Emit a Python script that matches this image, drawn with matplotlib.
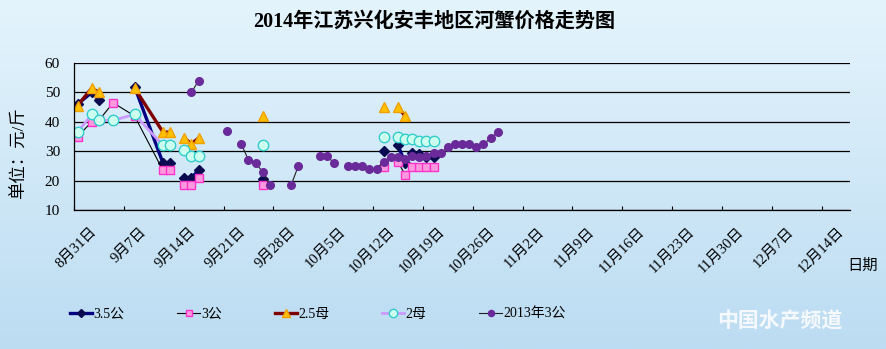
import numpy as np
import matplotlib.pyplot as plt
from matplotlib.colors import LinearSegmentedColormap
from matplotlib.transforms import ScaledTranslation
from datetime import date

# 价格数据（元/斤），None 表示当天无数据，折线在此断开
dates_35 = ["8/31", "9/2", "9/3", None, "9/8", "9/12", "9/13", None, "9/15", "9/16", "9/17",
            None, "9/26", None, "10/13", None, "10/15", "10/16", "10/17", "10/18", "10/19", "10/20"]
vals_35 = [46, 50, 47.5, None, 52, 26, 26, None, 21, 21, 23.5,
           None, 20.5, None, 30, None, 32, 26, 29.5, 29, 28, 28]

dates_3 = ["8/31", "9/2", "9/3", "9/5", "9/8", "9/12", "9/13", None, "9/15", "9/16", "9/17",
           None, "9/26", None, "10/13", None, "10/15", "10/16", "10/17", "10/18", "10/19", "10/20"]
vals_3 = [35, 40, 40.5, 46.5, 42, 23.5, 23.5, None, 18.5, 18.5, 21,
          None, 18.5, None, 24.5, None, 26.5, 22, 24.5, 24.5, 24.5, 24.5]

dates_25 = ["8/31", "9/2", "9/3", None, "9/8", "9/12", "9/13", None, "9/15", "9/16", "9/17",
            None, "9/26", None, "10/13", None, "10/15", "10/16"]
vals_25 = [45.5, 51.5, 50, None, 51.5, 36.5, 36.5, None, 34.5, 32.5, 34.5,
           None, 42, None, 45, None, 45, 42]

dates_2 = ["8/31", "9/2", "9/3", "9/5", "9/8", "9/12", "9/13", None, "9/15", "9/16", "9/17",
           None, "9/26", None, "10/13", None, "10/15", "10/16", "10/17", "10/18", "10/19", "10/20"]
vals_2 = [36.5, 42.5, 40.5, 40.5, 42.5, 32, 32, None, 30.5, 28.5, 28.5,
          None, 32, None, 35, None, 35, 34, 34, 33.5, 33.5, 33.5]

dates_13 = ["9/16", "9/17", None, "9/21", None, "9/23", "9/24", "9/25", "9/26", "9/27", None,
            "9/30", "10/1", None, "10/4", "10/5", "10/6", None,
            "10/8", "10/9", "10/10", "10/11", "10/12", "10/13", "10/14", "10/15", "10/16",
            "10/17", "10/18", "10/19", "10/20", "10/21", "10/22", "10/23", "10/24", "10/25",
            "10/26", "10/27", "10/28", "10/29"]
vals_13 = [50, 54, None, 37, None, 32.5, 27, 26, 23, 18.5, None,
           18.5, 25, None, 28.5, 28.5, 26, None,
           25, 25, 25, 24, 24, 26.5, 28, 28, 27.5,
           28.5, 28, 28.5, 29.3, 29.5, 31.3, 32.4, 32.4, 32.4,
           31.3, 32.4, 34.4, 36.4]

tick_labels = ["8月31日", "9月7日", "9月14日", "9月21日", "9月28日", "10月5日", "10月12日",
               "10月19日", "10月26日", "11月2日", "11月9日", "11月16日", "11月23日",
               "11月30日", "12月7日", "12月14日"]

start = date(2014, 8, 31)


def to_day(s):
    if s is None:
        return np.nan
    m, d = s.split("/")
    return (date(2014, int(m), int(d)) - start).days


def to_val(v):
    return np.nan if v is None else v


plt.rcParams['font.family'] = ['Liberation Serif', 'Noto Sans CJK SC']

fig = plt.figure(figsize=(8.86, 3.49), dpi=100)

# 背景渐变
bg = fig.add_axes([0, 0, 1, 1], zorder=-10)
cmap = LinearSegmentedColormap.from_list("bg", ["#bcdcf2", "#e4f4fc"])
bg.imshow(np.linspace(0, 1, 256).reshape(-1, 1), aspect='auto', cmap=cmap,
          origin='lower', extent=[0, 1, 0, 1])
bg.axis('off')

ax = fig.add_axes([0.0835, 0.398, 0.876, 0.4215])
ax.set_facecolor('none')

series = [
    (dates_35, vals_35, "3.5公", dict(color="#000080", lw=2.4, marker="D", ms=5.5,
                                      mfc="#0a0a50", mec="#0a0a50")),
    (dates_3, vals_3, "3公", dict(color="black", lw=0.8, marker="s", ms=6,
                                  mfc="#ff99dd", mec="#ff33cc")),
    (dates_25, vals_25, "2.5母", dict(color="#800000", lw=2.4, marker="^", ms=7,
                                      mfc="#ffc000", mec="#f0a000")),
    (dates_2, vals_2, "2母", dict(color="#cc99ff", lw=2.0, marker="o", ms=7.5,
                                  mfc="#ccffee", mec="#33cccc")),
    (dates_13, vals_13, "2013年3公", dict(color="#202020", lw=0.8, marker="o", ms=5.5,
                                          mfc="#6a2a9a", mec="#6a2a9a")),
]

for dts, vals, name, style in series:
    x = [to_day(s) for s in dts]
    y = [to_val(v) for v in vals]
    ax.plot(x, y, label=name, **style)

ax.set_xlim(-0.5, 108.5)
ax.set_ylim(10, 60)
ax.set_yticks(range(10, 61, 10))
ax.yaxis.grid(True, color="black", lw=0.9)
ax.set_axisbelow(True)
for side in ["top", "right"]:
    ax.spines[side].set_visible(False)
ax.spines["left"].set_linewidth(0.9)
ax.spines["bottom"].set_linewidth(0.9)
ax.tick_params(axis='y', length=0, pad=10, labelsize=11)

ax.set_xticks([-0.5 + 7 * k for k in range(len(tick_labels))])
ax.set_xticklabels(tick_labels, fontsize=10.5)
ax.tick_params(axis='x', direction='in', length=3, pad=14)
shift = ScaledTranslation(0.2, 0, fig.dpi_scale_trans)
for lbl in ax.get_xticklabels():
    lbl.set_rotation(45)
    lbl.set_rotation_mode('anchor')
    lbl.set_ha('right')
    lbl.set_va('center')
    lbl.set_transform(lbl.get_transform() + shift)

fig.text(0.49, 0.937, "2014年江苏兴化安丰地区河蟹价格走势图", ha='center', va='center',
         fontsize=14.5, fontweight='bold')
fig.text(0.022, 0.56, "单位：元/斤", rotation=90, ha='center', va='center', fontsize=12.5)
fig.text(0.973, 0.238, "日期", ha='center', va='center', fontsize=11)

fig.legend(loc='center left', bbox_to_anchor=(0.065, 0.1), ncol=5, frameon=False,
           fontsize=10, handlelength=1.6, handletextpad=0.1, columnspacing=3.8,
           markerscale=0.8)

fig.text(0.88, 0.075, "中国水产频道", ha='center', va='center', fontsize=15,
         fontweight='bold', color='white', alpha=0.85, style='italic')

fig.savefig("out.png", dpi=100)
